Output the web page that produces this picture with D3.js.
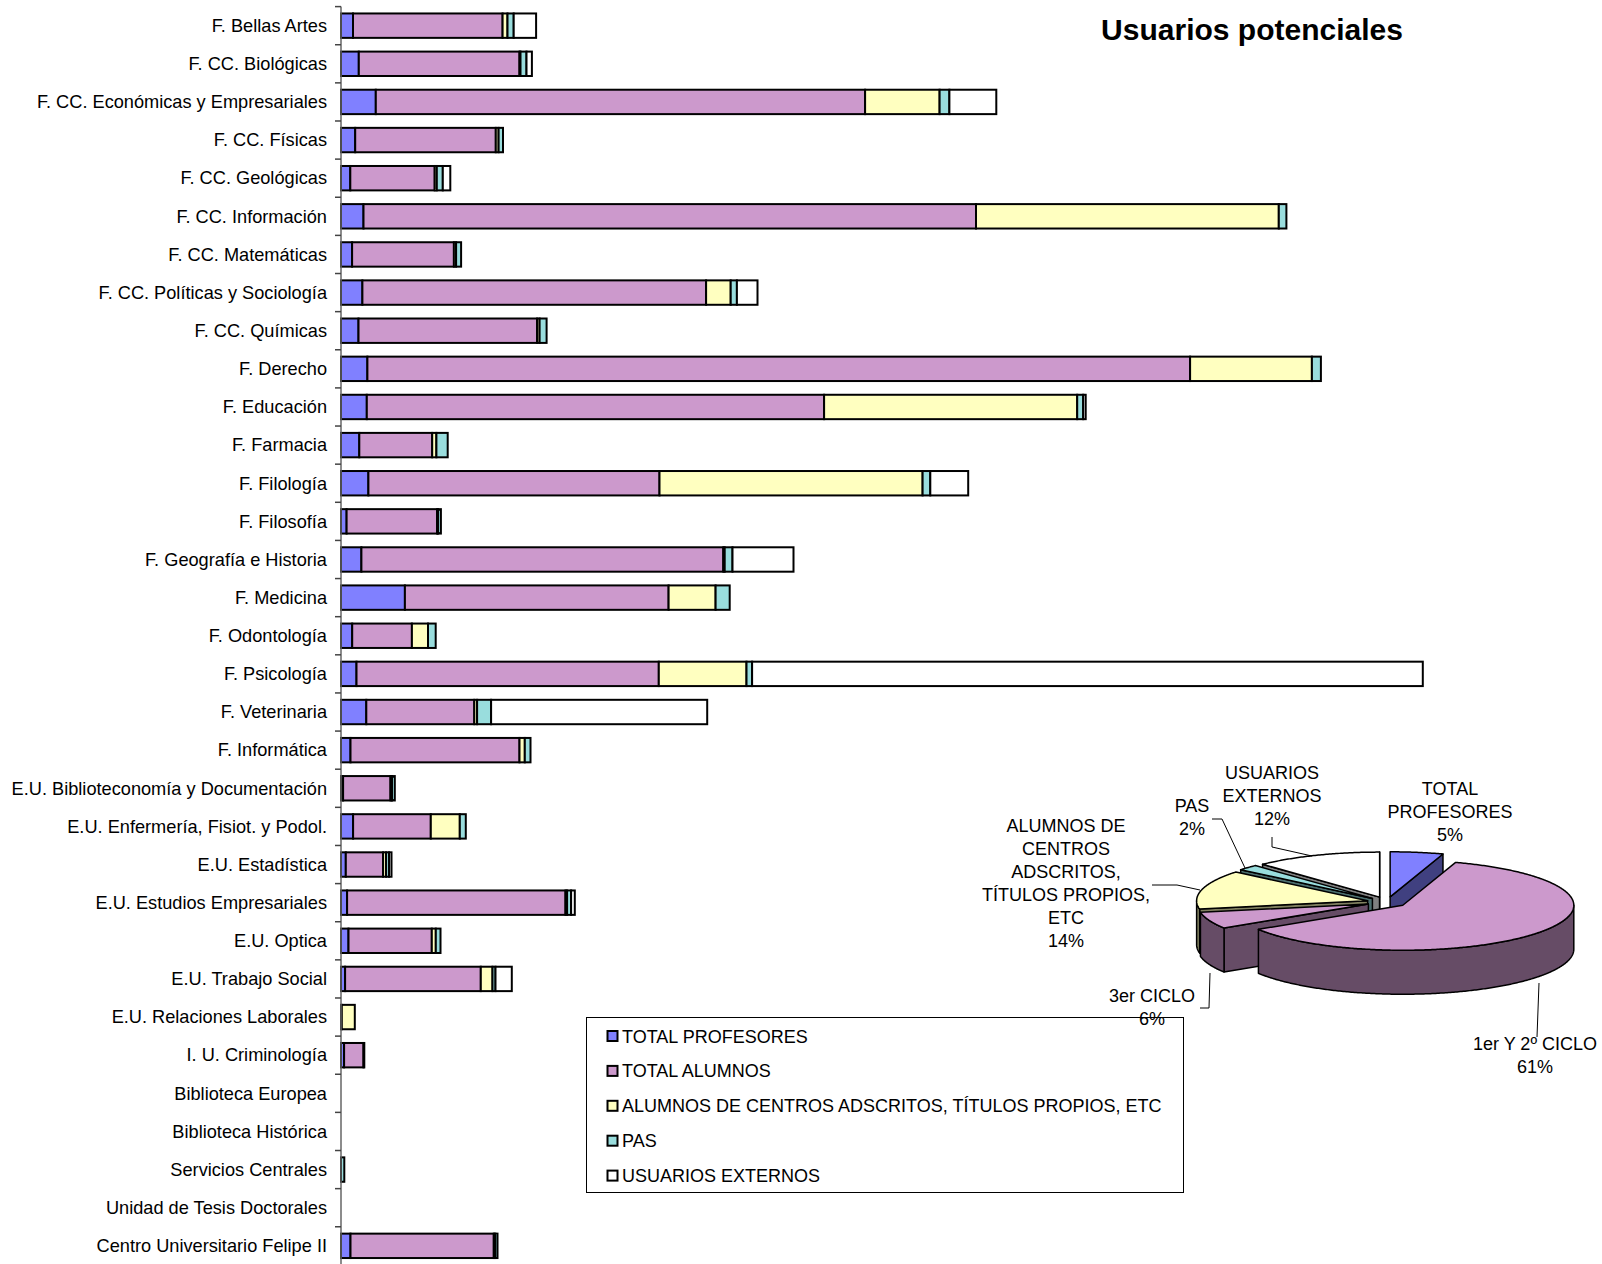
<!DOCTYPE html>
<html><head><meta charset="utf-8">
<script src="https://cdn.jsdelivr.net/npm/d3@7"></script>
<style>body{margin:0;background:#fff} svg{display:block} text{font-family:"Liberation Sans",Arial,sans-serif;fill:#000}</style>
</head><body><svg id="c" width="1602" height="1264"></svg>
<script>
// ---------- DATA ----------
const categories = ["F. Bellas Artes","F. CC. Biológicas","F. CC. Económicas y Empresariales","F. CC. Físicas","F. CC. Geológicas","F. CC. Información","F. CC. Matemáticas","F. CC. Políticas y Sociología","F. CC. Químicas","F. Derecho","F. Educación","F. Farmacia","F. Filología","F. Filosofía","F. Geografía e Historia","F. Medicina","F. Odontología","F. Psicología","F. Veterinaria","F. Informática","E.U. Biblioteconomía y Documentación","E.U. Enfermería, Fisiot. y Podol.","E.U. Estadística","E.U. Estudios Empresariales","E.U. Optica","E.U. Trabajo Social","E.U. Relaciones Laborales","I. U. Criminología","Biblioteca Europea","Biblioteca Histórica","Servicios Centrales","Unidad de Tesis Doctorales","Centro Universitario Felipe II"];
const totalProfesores = [120,178,348,142,93,225,111,214,175,264,258,183,274,56,204,639,112,155,253,95,21,121,48,61,75,41,8,31,0,0,0,0,95];
const totalAlumnos    = [1496,1607,4893,1406,844,6125,1018,3437,1786,8227,4573,729,2911,905,3619,2637,597,3023,1080,1690,474,777,373,2184,833,1357,0,194,0,0,0,0,1433];
const alumnosAdscritos= [49,10,745,28,21,3028,22,246,25,1218,2531,42,2631,10,14,470,161,877,28,53,15,290,30,16,40,117,130,0,0,0,0,0,15];
const pas             = [62,60,98,44,60,76,50,62,70,90,60,113,77,28,78,141,77,56,140,57,28,60,30,40,47,30,0,8,0,0,33,0,22];
const usuariosExternos= [224,54,469,0,75,0,0,206,0,0,25,0,379,0,610,0,0,6707,2161,0,0,0,24,37,0,163,0,0,0,0,0,0,0];
const seriesNames  = ["TOTAL PROFESORES","TOTAL ALUMNOS","ALUMNOS DE CENTROS ADSCRITOS, TÍTULOS PROPIOS, ETC","PAS","USUARIOS EXTERNOS"];
const seriesColors = ["#8080FF","#CC99CC","#FFFFC0","#99DDDD","#FFFFFF"];

const pieNames  = ["TOTAL PROFESORES","1er Y 2º CICLO","3er CICLO","ALUMNOS DE CENTROS ADSCRITOS, TÍTULOS PROPIOS, ETC","PAS","USUARIOS EXTERNOS"];
const pieValues = [5,61,6,14,2,12];
const pieTop    = ["#8080FF","#CC99CC","#CC99CC","#FFFFC0","#99DDDD","#FFFFFF"];
const pieSide   = ["#404080","#664C66","#664C66","#808060","#4C6E6E","#808080"];
const title = "Usuarios potenciales";

// ---------- CHART ----------
const svg = d3.select("#c");
const keys = ["p","a","y","s","e"];
const rows = categories.map((c,i)=>({cat:c,p:totalProfesores[i],a:totalAlumnos[i],y:alumnosAdscritos[i],s:pas[i],e:usuariosExternos[i]}));
const stack = d3.stack().keys(keys)(rows);

const x = d3.scaleLinear().domain([0,10000]).range([341,1341]);
const y = d3.scaleBand().domain(categories).range([6.6,1264.9]).paddingInner(0.36).paddingOuter(0.18);

const g = svg.append("g");
stack.forEach((layer,li)=>{
  g.selectAll(null).data(layer.filter(d=>d[1]-d[0]>0)).enter().append("rect")
    .attr("x",d=>x(d[0])).attr("width",d=>x(d[1])-x(d[0]))
    .attr("y",d=>y(d.data.cat)).attr("height",y.bandwidth())
    .attr("fill",seriesColors[li]).attr("stroke","#000").attr("stroke-width",2);
});

// axis
const r = y.range(), step = y.step();
svg.append("line").attr("x1",x(0)).attr("x2",x(0)).attr("y1",r[0]).attr("y2",r[1]).attr("stroke","#666").attr("stroke-width",1.5);
d3.range(categories.length+1).forEach(i=>{
  const yy = r[0] + i*step;
  svg.append("line").attr("x1",x(0)-6).attr("x2",x(0)).attr("y1",yy).attr("y2",yy).attr("stroke","#444").attr("stroke-width",1.5);
});
svg.append("g").selectAll("text").data(categories).enter().append("text")
  .attr("x",x(0)-14).attr("y",d=>y(d)+y.bandwidth()/2+6.3)
  .attr("text-anchor","end").attr("font-size",18.2).text(d=>d);

// title
svg.append("text").attr("x",1252).attr("y",40).attr("text-anchor","middle")
  .attr("font-size",30).attr("font-weight","bold").text(title);

// legend
const lg = svg.append("g");
lg.append("rect").attr("x",586.5).attr("y",1017.5).attr("width",597).attr("height",175).attr("fill","#fff").attr("stroke","#000").attr("stroke-width",1);
seriesNames.forEach((n,i)=>{
  const cy = 1036 + i*34.9;
  lg.append("rect").attr("x",607.5).attr("y",cy-5).attr("width",10).attr("height",10).attr("fill",seriesColors[i]).attr("stroke","#000").attr("stroke-width",2);
  lg.append("text").attr("x",622).attr("y",cy+6.5).attr("font-size",18).text(n);
});

// ---------- 3D PIE ----------
const P = {cx:1387, cy:902, rx:171, ry:45, depth:44, explode:20};
const k = P.ry/P.rx;
const arcs = d3.pie().sort(null).startAngle(0).endAngle(2*Math.PI)(pieValues);
const total = d3.sum(pieValues);
const slices = arcs.map((a,i)=>{
  const m = (a.startAngle+a.endAngle)/2;
  return {i, a0:a.startAngle, a1:a.endAngle, m,
    ox: P.explode*Math.sin(m), oy: -P.explode*Math.cos(m)*k};
});
function pt(s,t,dz){ return [P.cx+s.ox+P.rx*Math.sin(t), P.cy+s.oy-P.ry*Math.cos(t)+(dz||0)]; }
function apex(s,dz){ return [P.cx+s.ox, P.cy+s.oy+(dz||0)]; }
function rim(s,t0,t1,dz){ const n=Math.max(2,Math.ceil(Math.abs(t1-t0)/0.01)); return d3.range(n+1).map(j=>pt(s,t0+(t1-t0)*j/n,dz)); }
const line = d3.line();
const pg = svg.append("g").attr("stroke","#000").attr("stroke-width",1.5).attr("stroke-linejoin","round");
slices.slice().sort((a,b)=>Math.cos(b.m)-Math.cos(a.m)).forEach(s=>{
  const D = P.depth;
  if (Math.sin(s.a0) < 0) {
    pg.append("path").attr("d",line([apex(s),pt(s,s.a0),pt(s,s.a0,D),apex(s,D)])+"Z").attr("fill",pieSide[s.i]);
  }
  if (Math.sin(s.a1) > 0) {
    pg.append("path").attr("d",line([apex(s),pt(s,s.a1),pt(s,s.a1,D),apex(s,D)])+"Z").attr("fill",pieSide[s.i]);
  }
  const w0 = Math.max(s.a0, Math.PI/2), w1 = Math.min(s.a1, 3*Math.PI/2);
  if (w1 > w0) {
    const top = rim(s,w0,w1,0), bot = rim(s,w1,w0,D);
    pg.append("path").attr("d",line(top.concat(bot))+"Z").attr("fill",pieSide[s.i]);
  }
  pg.append("path").attr("d",line([apex(s)].concat(rim(s,s.a0,s.a1,0)))+"Z").attr("fill",pieTop[s.i]);
});

// pie labels
const fmt = d3.format(".0%");
const labelLines = [["TOTAL","PROFESORES"],["1er Y 2º CICLO"],["3er CICLO"],["ALUMNOS DE","CENTROS","ADSCRITOS,","TÍTULOS PROPIOS,","ETC"],["PAS"],["USUARIOS","EXTERNOS"]];
const labelPos = [[1450,795],[1535,1050],[1152,1002],[1066,832],[1192,812],[1272,779]];
labelLines.forEach((ls,i)=>{
  const t = svg.append("text").attr("text-anchor","middle").attr("font-size",18);
  ls.concat([fmt(pieValues[i]/total)]).forEach((l,j)=>{
    t.append("tspan").attr("x",labelPos[i][0]).attr("y",labelPos[i][1]+j*23).text(l);
  });
});
// leader lines
const leaders = [
  [[1212,819],[1222,819],[1245,868]],
  [[1272,837],[1272,847],[1312,856]],
  [[1152,885],[1177,885],[1200,890]],
  [[1200,1008],[1209,1008],[1210,973]],
  [[1539,983],[1537,1037]]
];
leaders.forEach(l=>svg.append("path").attr("d",line(l)).attr("fill","none").attr("stroke","#000").attr("stroke-width",1));
</script></body></html>
